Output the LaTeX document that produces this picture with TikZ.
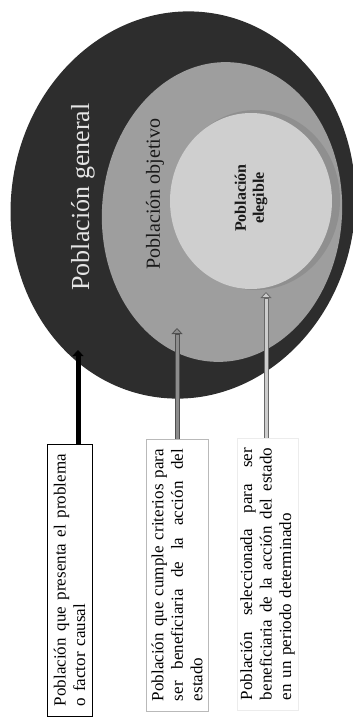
\documentclass[tikz,border=0pt]{standalone}
\usepackage{fontspec}
\setmainfont{Liberation Serif}
\usetikzlibrary{arrows.meta,calc}
\definecolor{cdark}{RGB}{45,45,45}
\definecolor{cmid}{RGB}{158,158,158}
\definecolor{cband}{RGB}{143,143,143}
\definecolor{clight}{RGB}{207,207,207}
\definecolor{otwo}{RGB}{80,80,80}
\definecolor{ftwo}{RGB}{140,140,140}
\definecolor{othree}{RGB}{105,105,105}
\definecolor{fthree}{RGB}{205,205,205}
\newcommand{\jline}[1]{\makebox[252pt][s]{\spaceskip=0pt\xspaceskip=0pt\relax #1}}
\begin{document}
\begin{tikzpicture}[x=1pt,y=-1pt,
  boxtext/.style={rotate=90, inner sep=0pt, minimum width=272pt, text width=252pt,
    align=left, font=\fontsize{17}{19.5}\selectfont},
  arrowouter/.style 2 args={line width=5pt, draw=#1,
    -{Triangle[length=6pt 0,width=11pt 0,line width=0.8pt 0,fill=#2]}},
  arrowinner/.style={line width=3pt, draw=#1, shorten >=6.5pt}
]
\useasboundingbox (0,0) rectangle (353,717);
\fill[white] (0,0) rectangle (353,717);
% ellipses
\fill[cdark, rotate around={-8:(183,205)}] (183,205) ellipse [x radius=172pt, y radius=194pt];
\fill[cmid, rotate around={-4:(222,212)}] (222,212) ellipse [x radius=120pt, y radius=150pt];
\fill[cband] (256,200) ellipse [x radius=84pt, y radius=90pt];
\fill[clight] (251,201) ellipse [x radius=81pt, y radius=88pt];
% labels
\node[rotate=90, text=white!90!black, font=\fontsize{26}{28}\selectfont] (gen) at (83,197) {Población general};
\node[rotate=90, text=black!90, font=\fontsize{20}{22}\selectfont] (obj) at (155,194) {Población objetivo};
\node[rotate=90, text=black!90, align=center, font=\bfseries\fontsize{16}{18}\selectfont] (ele) at (251,198) {Población\\elegible};
% boxes
\node[boxtext, draw=black, line width=0.8pt, minimum height=45pt] (b1) at (69.5,580)
  {\jline{Población que presenta el problema}\\o factor causal};
\node[boxtext, draw=gray!55, line width=0.8pt, minimum height=62pt] (b2) at (177,575)
  {\jline{Población que cumple criterios para}\\\jline{ser beneficiaria de la acción del}\\estado};
\node[boxtext, draw=gray!15, line width=0.6pt, minimum height=61pt] (b3) at (267.5,574)
  {\jline{Población seleccionada para ser}\\\jline{beneficiaria de la acción del estado}\\en un periodo determinado};
% arrow targets
\coordinate (t1) at (78,350);
\coordinate (t2) at (177,328);
\coordinate (t3) at (266,292);
% arrows
\draw[arrowouter={black}{black}] (b1.east -| t1) -- (t1);
\draw[arrowouter={otwo}{ftwo}] (b2.east -| t2) -- (t2);
\draw[arrowinner=ftwo] (b2.east -| t2) -- (t2);
\draw[arrowouter={othree}{fthree}] (b3.east -| t3) -- (t3);
\draw[arrowinner=fthree] (b3.east -| t3) -- (t3);
\end{tikzpicture}
\end{document}
